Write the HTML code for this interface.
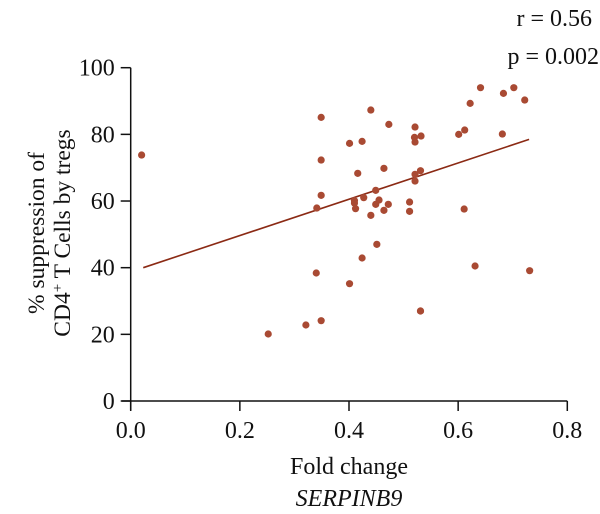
<!DOCTYPE html>
<html><head><meta charset="utf-8"><style>
html,body{margin:0;padding:0;background:#fff;}
svg{display:block;font-family:"Liberation Serif",serif;}
</style></head><body>
<svg id="chart" width="600" height="514">
<g id="axes"></g>
<g id="marks"></g>
<text transform="translate(44,233) rotate(-90)" text-anchor="middle" font-size="23.5" fill="#111">% suppression of</text>
<text transform="translate(70,233) rotate(-90)" text-anchor="middle" font-size="23.5" fill="#111">CD4<tspan dy="-8" font-size="15">+</tspan><tspan dy="8"> T Cells by tregs</tspan></text>
<text x="349" y="474" text-anchor="middle" font-size="24" fill="#111">Fold change</text>
<text x="349" y="506" text-anchor="middle" font-size="24" font-style="italic" fill="#111">SERPINB9</text>
<text x="592" y="26" text-anchor="end" font-size="24" fill="#111">r = 0.56</text>
<text x="599" y="64" text-anchor="end" font-size="24" fill="#111">p = 0.002</text>
</svg>
<script>
const xVals=[0.02,0.252,0.321,0.349,0.34,0.349,0.341,0.349,0.349,0.401,0.401,0.41,0.41,0.412,0.416,0.424,0.424,0.427,0.44,0.44,0.449,0.449,0.451,0.455,0.464,0.464,0.472,0.473,0.511,0.511,0.521,0.52,0.521,0.532,0.521,0.521,0.531,0.531,0.531,0.601,0.611,0.612,0.622,0.631,0.641,0.681,0.683,0.702,0.722,0.731];
const yVals=[73.8,20.1,22.8,24.1,38.4,61.7,57.9,72.3,85.1,35.2,77.3,60.1,59.4,57.7,68.3,42.9,77.9,61,87.3,55.7,63.2,59,47,60.3,69.8,57.2,59,83,59.7,56.9,82.2,79.1,77.7,79.5,68,66,69.1,27,27,80,57.6,81.3,89.3,40.5,94,80.1,92.3,94,90.3,39.1];
const fitX=[0.023,0.73];
const fitY=[40,78.5];
const xTicks=[0,0.2,0.4,0.6,0.8];
const xTickLabels=["0.0","0.2","0.4","0.6","0.8"];
const yTicks=[0,20,40,60,80,100];
const yTickLabels=["0","20","40","60","80","100"];
const X0=130.7,X1=567.3,Y0=401,Y1=67.7;
const sx=v=>X0+(v-0)/(0.8-0)*(X1-X0);
const sy=v=>Y0-(v-0)/(100-0)*(Y0-Y1);
const NS="http://www.w3.org/2000/svg";
function mk(tag,attrs,parent){const e=document.createElementNS(NS,tag);for(const k in attrs)e.setAttribute(k,attrs[k]);parent.appendChild(e);return e;}
const axes=document.getElementById('axes');
const marks=document.getElementById('marks');
let a=mk('line',{x1:X0,y1:Y1,x2:X0,y2:Y0+9,stroke:'#111','stroke-width':1.5},axes);


a=mk('line',{x1:X0-9,y1:Y0,x2:X1,y2:Y0,stroke:'#111','stroke-width':1.5},axes);


xTicks.forEach((t,i)=>{
 const l=mk('line',{x1:sx(t),y1:Y0,x2:sx(t),y2:Y0+10,stroke:'#111','stroke-width':1.5},axes);
 
 
 const tx=mk('text',{x:sx(t),y:Y0+37,'text-anchor':'middle','font-size':24,fill:'#111'},axes);
 tx.textContent=xTickLabels[i];
 
 
});
yTicks.forEach((t,i)=>{
 const l=mk('line',{x1:X0-10,y1:sy(t),x2:X0,y2:sy(t),stroke:'#111','stroke-width':1.5},axes);
 
 
 const tx=mk('text',{x:X0-16,y:sy(t)+8,'text-anchor':'end','font-size':24,fill:'#111'},axes);
 tx.textContent=yTickLabels[i];
 
 
});
const fl=mk('line',{x1:sx(fitX[0]),y1:sy(fitY[0]),x2:sx(fitX[1]),y2:sy(fitY[1]),stroke:'#8b2a14','stroke-width':1.6},marks);


xVals.forEach((x,i)=>{
 const c=mk('circle',{cx:sx(x),cy:sy(yVals[i]),r:3.6,fill:'#a94a33'},marks);
 
 
});
</script>
</body></html>
